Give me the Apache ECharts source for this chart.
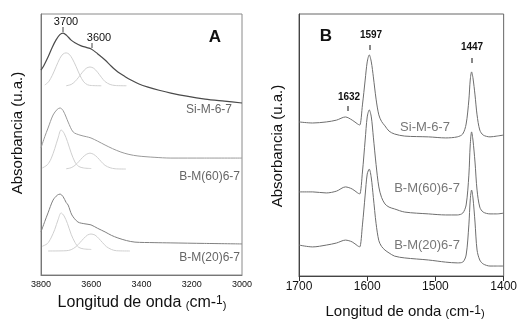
<!DOCTYPE html>
<html>
<head>
<meta charset="UTF-8">
<title>IR spectra</title>
<script src="https://cdn.jsdelivr.net/npm/echarts@6/dist/echarts.min.js"></script>
<style>
  html, body { margin: 0; padding: 0; background: #fff; }
  #main { width: 520px; height: 322px; }
</style>
</head>
<body>
<div id="main"></div>
<script>
// ---- panel A : OH region (wavenumber, absorbance a.u.)
var ticksA = [3800, 3600, 3400, 3200, 3000];
var siA = [[3800,78.5],[3790,80.0],[3772,83.5],[3755,87.3],[3740,90.1],[3725,92.1],[3712,92.7],[3698,91.8],[3680,90.0],[3665,89.0],[3640,87.8],[3620,87.2],[3600,86.6],[3575,84.8],[3545,82.4],[3520,80.0],[3494,77.8],[3465,76.0],[3442,74.7],[3410,73.2],[3374,72.0],[3330,70.8],[3283,69.7],[3220,68.5],[3147,67.4],[3070,66.6],[3000,65.9]];
var siG1 = [[3785,72.8],[3770,74.0],[3755,76.5],[3740,79.8],[3725,83.0],[3712,84.7],[3700,85.1],[3688,84.6],[3675,82.8],[3660,79.8],[3645,76.5],[3630,74.0],[3615,72.9],[3600,72.6],[3560,72.5]];
var siG2 = [[3700,72.5],[3680,73.0],[3665,74.1],[3650,75.8],[3635,77.7],[3620,79.2],[3605,79.7],[3590,79.2],[3575,77.7],[3560,75.8],[3545,74.1],[3525,73.0],[3505,72.6],[3460,72.5]];
var b60A = [[3800,48.7],[3785,53.0],[3772,56.3],[3752,61.3],[3735,63.5],[3724,64.0],[3712,63.0],[3700,60.5],[3692,58.6],[3672,54.8],[3645,53.6],[3620,53.0],[3601,52.5],[3575,51.3],[3545,49.8],[3515,48.4],[3482,47.1],[3450,46.2],[3414,45.6],[3350,45.1],[3283,44.8],[3150,44.8],[3000,44.8]];
var b60G1 = [[3795,41.0],[3775,42.2],[3760,44.5],[3745,48.5],[3732,52.5],[3720,55.6],[3708,54.3],[3695,51.2],[3680,46.8],[3665,43.3],[3650,41.6],[3630,41.0],[3600,40.8]];
var b60G2 = [[3700,40.7],[3680,41.1],[3665,42.0],[3650,43.4],[3635,45.0],[3620,46.2],[3605,46.7],[3590,46.2],[3575,45.0],[3560,43.4],[3545,42.0],[3525,41.1],[3505,40.7],[3462,40.6]];
var b20A = [[3800,16.5],[3785,20.5],[3772,23.8],[3752,28.7],[3735,30.6],[3724,31.0],[3712,30.0],[3700,27.8],[3692,26.8],[3677,23.0],[3653,20.3],[3625,19.6],[3601,19.2],[3575,17.9],[3545,16.5],[3520,15.2],[3494,14.2],[3460,13.2],[3426,12.6],[3350,12.4],[3283,12.3],[3150,12.1],[3000,11.9]];
var b20G1 = [[3795,11.0],[3775,12.0],[3760,14.2],[3745,17.5],[3732,21.2],[3720,23.8],[3708,22.6],[3695,19.8],[3680,15.6],[3665,12.5],[3650,10.6],[3630,10.0],[3600,9.8]];
var b20G2 = [[3772,9.2],[3700,9.3],[3680,9.7],[3660,10.9],[3645,12.4],[3630,14.0],[3615,15.3],[3601,15.7],[3585,15.3],[3570,14.0],[3555,12.4],[3540,10.9],[3520,9.8],[3500,9.3],[3446,9.2]];

// ---- panel B : pyridine region
var ticksB = [1700, 1600, 1500, 1400];
var siB = [[1700,58.8],[1680,58.4],[1660,58.8],[1645,59.5],[1632,60.7],[1622,59.5],[1614,58.0],[1611,57.6],[1607,65.3],[1603,74.8],[1600,81.7],[1597,84.4],[1594,81.7],[1591,76.0],[1587,67.5],[1583,61.5],[1579,59.0],[1574,57.3],[1568,55.3],[1560,54.2],[1545,53.4],[1510,53.1],[1485,52.7],[1468,53.1],[1460,54.2],[1455,58.0],[1451,67.2],[1449,74.8],[1447,77.9],[1445,75.6],[1442,69.1],[1439,61.5],[1435,55.7],[1430,53.8],[1420,53.1],[1410,53.4],[1400,53.8]];
var b60B = [[1700,32.1],[1680,32.1],[1660,31.7],[1645,32.4],[1632,34.0],[1622,33.2],[1614,31.7],[1611,31.3],[1607,39.7],[1603,51.9],[1600,60.7],[1597,63.4],[1594,60.7],[1591,53.0],[1587,42.5],[1583,34.0],[1579,30.0],[1574,27.5],[1568,26.3],[1560,25.6],[1545,24.4],[1510,23.7],[1485,23.3],[1468,23.3],[1460,24.0],[1455,27.1],[1451,38.5],[1449,50.0],[1447,55.0],[1445,51.9],[1442,43.5],[1439,32.8],[1435,26.3],[1430,24.4],[1420,23.7],[1410,23.7],[1400,24.0]];
var b20B = [[1700,11.8],[1680,11.1],[1660,11.8],[1645,12.6],[1632,13.7],[1622,13.0],[1614,11.5],[1611,11.1],[1607,19.5],[1603,30.9],[1600,38.9],[1597,40.8],[1594,37.4],[1591,30.0],[1587,20.0],[1583,13.5],[1579,11.3],[1574,9.9],[1568,8.8],[1560,7.6],[1545,6.9],[1510,6.1],[1485,5.3],[1468,5.0],[1460,5.3],[1455,8.0],[1451,19.5],[1449,29.0],[1447,32.8],[1445,29.8],[1442,20.6],[1439,9.9],[1435,6.1],[1430,4.6],[1420,3.8],[1410,3.8],[1400,3.8]];

var FONT = 'Liberation Sans, Arial, sans-serif';
var chart = echarts.init(document.getElementById('main'), null, {renderer: 'canvas'});

function line(name, data, idx, color, w) {
  return {
    name: name, type: 'line', data: data,
    xAxisIndex: idx, yAxisIndex: idx,
    showSymbol: false, smooth: 0.3,
    lineStyle: {color: color, width: w || 1},
    silent: true, animation: false
  };
}

function xTitle(x, y, size) {
  var small = Math.round(size * 0.7);
  return {
    type: 'text', x: x, y: y, silent: true,
    style: {
      text: '{a|Longitud de onda }{s|(}{a|cm-}{p|1}{s|)}',
      textAlign: 'center', textVerticalAlign: 'middle',
      rich: {
        a: {fontSize: size, fontFamily: FONT, fill: '#111', verticalAlign: 'bottom'},
        s: {fontSize: small, fontFamily: FONT, fill: '#111', verticalAlign: 'bottom'},
        p: {fontSize: small + 1, fontFamily: FONT, fill: '#111', verticalAlign: 'top'}
      }
    }
  };
}

function txt(x, y, s, size, opts) {
  opts = opts || {};
  return {
    type: 'text', x: x, y: y, silent: true, rotation: opts.rot || 0,
    style: {
      text: s, fill: opts.color || '#111',
      font: (opts.bold ? 'bold ' : '') + size + 'px ' + FONT,
      textAlign: opts.align || 'center', textVerticalAlign: 'middle'
    }
  };
}

function tick(x, y1, y2, color) {
  return {type: 'line', silent: true, shape: {x1: x, y1: y1, x2: x, y2: y2},
          style: {stroke: color || '#222', lineWidth: 1}};
}

var option = {
  animation: false,
  grid: [
    {left: 41, top: 14, width: 201, height: 261, show: true, borderColor: '#8a8a8a', borderWidth: 1},
    {left: 299, top: 14, width: 205, height: 262, show: true, borderColor: '#666', borderWidth: 1}
  ],
  xAxis: [
    {
      type: 'value', gridIndex: 0, inverse: true, min: 3000, max: 3800, interval: 200,
      axisLine: {show: true, lineStyle: {color: '#777'}},
      axisTick: {show: false}, splitLine: {show: false},
      axisLabel: {fontSize: 9, fontFamily: FONT, color: '#111', margin: 5,
                  showMinLabel: true, showMaxLabel: true,
                  formatter: function (v) { return ticksA.indexOf(v) >= 0 ? String(v) : ''; }}
    },
    {
      type: 'value', gridIndex: 1, inverse: true, min: 1400, max: 1700, interval: 100,
      axisLine: {show: true, lineStyle: {color: '#444'}},
      axisTick: {show: true, length: 5, inside: false, lineStyle: {color: '#333'}},
      splitLine: {show: false},
      axisLabel: {fontSize: 12, fontFamily: FONT, color: '#111', margin: 5,
                  showMinLabel: true, showMaxLabel: true,
                  formatter: function (v) { return ticksB.indexOf(v) >= 0 ? String(v) : ''; }}
    }
  ],
  yAxis: [
    {type: 'value', gridIndex: 0, min: 0, max: 100, show: true,
     axisLine: {show: true, lineStyle: {color: '#777'}}, axisTick: {show: false},
     axisLabel: {show: false}, splitLine: {show: false}},
    {type: 'value', gridIndex: 1, min: 0, max: 100, show: true,
     axisLine: {show: true, lineStyle: {color: '#444'}}, axisTick: {show: false},
     axisLabel: {show: false}, splitLine: {show: false}}
  ],
  series: [
    line('Si G1', siG1, 0, '#cfcfcf'),
    line('Si G2', siG2, 0, '#cfcfcf'),
    line('B60 G1', b60G1, 0, '#cfcfcf'),
    line('B60 G2', b60G2, 0, '#cfcfcf'),
    line('B20 G1', b20G1, 0, '#cfcfcf'),
    line('B20 G2', b20G2, 0, '#cfcfcf'),
    line('Si-M-6-7', siA, 0, '#4a4a4a', 1.2),
    line('B-M(60)6-7', b60A, 0, '#9a9a9a'),
    line('B-M(20)6-7', b20A, 0, '#808080'),
    line('Si-M-6-7 B', siB, 1, '#6e6e6e'),
    line('B-M(60)6-7 B', b60B, 1, '#6e6e6e'),
    line('B-M(20)6-7 B', b20B, 1, '#6e6e6e')
  ],
  graphic: [
    // panel A
    txt(18, 133, 'Absorbancia (u.a.)', 15, {rot: Math.PI / 2}),
    xTitle(142, 303, 16),
    txt(215, 37, 'A', 17, {bold: true}),
    txt(66, 22, '3700', 11),
    tick(63, 27, 32, '#444'),
    txt(99, 38, '3600', 11),
    tick(92, 43, 48, '#444'),
    txt(232, 110, 'Si-M-6-7', 12, {align: 'right', color: '#666'}),
    txt(240, 177, 'B-M(60)6-7', 12, {align: 'right', color: '#666'}),
    txt(240, 258, 'B-M(20)6-7', 12, {align: 'right', color: '#666'}),
    // panel B
    txt(278, 146, 'Absorbancia (u.a.)', 15, {rot: Math.PI / 2}),
    xTitle(405, 312, 15),
    txt(326, 36, 'B', 17, {bold: true}),
    txt(371, 35, '1597', 10, {bold: true}),
    tick(370, 45, 50, '#111'),
    txt(472, 47, '1447', 10, {bold: true}),
    tick(472, 58, 63, '#111'),
    txt(349, 97, '1632', 10, {bold: true}),
    tick(348, 106, 111, '#111'),
    txt(425, 127, 'Si-M-6-7', 13, {color: '#777'}),
    txt(427, 188, 'B-M(60)6-7', 13, {color: '#777'}),
    txt(427, 245, 'B-M(20)6-7', 13, {color: '#777'})
  ]
};

chart.setOption(option);
</script>
</body>
</html>
